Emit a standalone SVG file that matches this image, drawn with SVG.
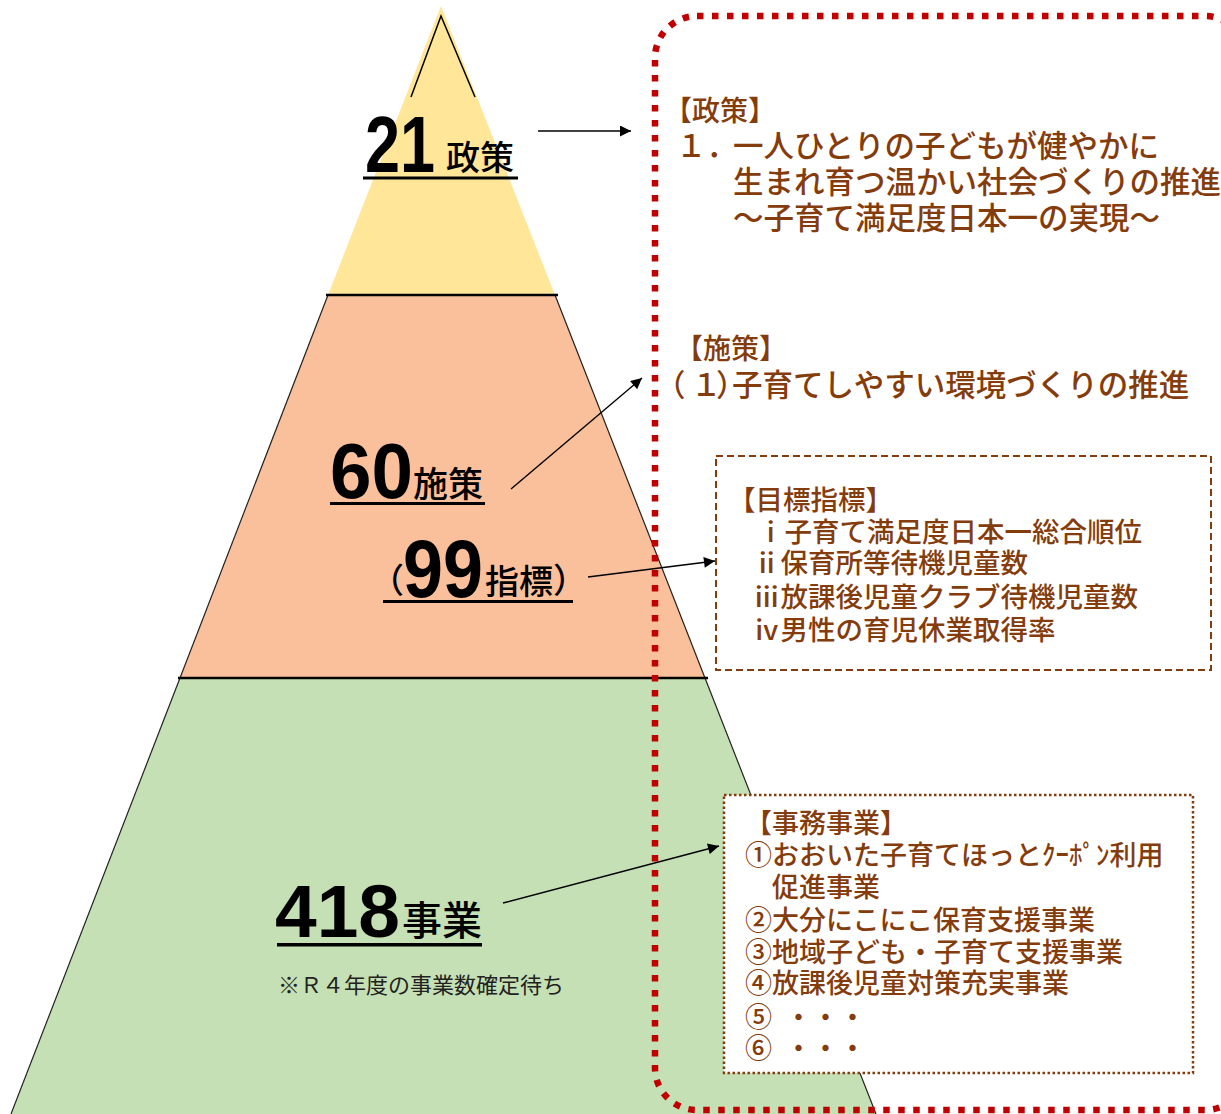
<svg xmlns="http://www.w3.org/2000/svg" width="1221" height="1114" viewBox="0 0 1221 1114">
<style>
.jp{font-family:"Noto Sans CJK JP","Noto Sans CJK SC",sans-serif}
.br{fill:#843C0C;font-weight:500}
.num{font-family:"Liberation Sans","Noto Sans CJK JP",sans-serif;font-weight:700;fill:#000}
.lbl{font-family:"Noto Sans CJK JP",sans-serif;font-weight:500;fill:#000}
.note{font-family:"Noto Sans CJK JP",sans-serif;font-weight:400;fill:#222}
.conn{stroke:#000;stroke-width:1.4;fill:none;marker-end:url(#ah)}
.edge{stroke:#222;stroke-width:1.2}
</style>
<defs>
<marker id="ah" viewBox="0 0 10 10" refX="10" refY="5" markerWidth="15" markerHeight="11" orient="auto" markerUnits="userSpaceOnUse">
<path d="M0,0 L10,5 L0,10 z" fill="#000"/>
</marker>
</defs>
<rect width="1221" height="1114" fill="#fff"/>

<g id="tier-policy">
<polygon points="441,6 555,295 328,295" fill="#FFE699"/>
<polyline points="411,97 441,16 475,97" fill="none" stroke="#000" stroke-width="1.5"/>
</g>
<g id="tier-measures">
<polygon points="328,295 555,295 705,678 180,678" fill="#FAC09B"/>
<line class="edge" x1="328" y1="295" x2="180" y2="678"/>
<line class="edge" x1="555" y1="295" x2="705" y2="678"/>
<line x1="326" y1="295" x2="558" y2="295" stroke="#000" stroke-width="2.5"/>
</g>
<g id="tier-projects">
<polygon points="180,678 705,678 876,1114 11,1114" fill="#C5E0B4"/>
<line class="edge" x1="180" y1="678" x2="11" y2="1114"/>
<line class="edge" x1="705" y1="678" x2="876" y2="1114"/>
<line x1="178" y1="678" x2="708" y2="678" stroke="#000" stroke-width="2.5"/>
</g>

<g id="label-21">
<text class="num" x="365" y="172" font-size="80" textLength="70" lengthAdjust="spacingAndGlyphs">21</text>
<text class="lbl" x="446" y="170" font-size="34">政策</text>
<rect x="363" y="176.5" width="155" height="3" fill="#000"/>
</g>
<g id="label-60">
<text class="num" x="330" y="498" font-size="77" textLength="83" lengthAdjust="spacingAndGlyphs">60</text>
<text class="lbl" x="413" y="497" font-size="35">施策</text>
<rect x="330" y="502" width="155" height="3" fill="#000"/>
</g>
<g id="label-99">
<text class="lbl" font-size="34"><tspan x="370" y="593">（</tspan><tspan x="485" y="594">指標</tspan><tspan x="553" y="593">）</tspan></text>
<text class="num" x="403" y="597" font-size="81" textLength="80" lengthAdjust="spacingAndGlyphs">99</text>
<rect x="383" y="600" width="190" height="3" fill="#000"/>
</g>
<g id="label-418">
<text class="num" x="275" y="937" font-size="75" textLength="125" lengthAdjust="spacingAndGlyphs">418</text>
<text class="lbl" x="402" y="935" font-size="40">事業</text>
<rect x="277" y="943" width="205" height="3.5" fill="#000"/>
<text class="note" x="278" y="993" font-size="22">※Ｒ４年度の事業数確定待ち</text>
</g>

<g id="policy-text" class="jp br">
<text x="664" y="121" font-size="28">【政策】</text>
<text font-size="30.5"><tspan x="676" y="157">１．</tspan><tspan x="733" y="157">一人ひとりの子どもが健やかに</tspan></text>
<text x="733" y="193" font-size="30.5">生まれ育つ温かい社会づくりの推進</text>
<text x="733" y="229" font-size="30.5">～子育て満足度日本一の実現～</text>
</g>
<g id="measure-text" class="jp br">
<text x="675" y="359" font-size="28">【施策】</text>
<text font-size="30.5" y="396"><tspan x="655">（</tspan><tspan x="691">１</tspan><tspan x="716">）</tspan><tspan x="732">子育てしやすい環境づくりの推進</tspan></text>
</g>
<g id="indicator-box">
<rect x="716" y="456" width="495" height="214" fill="#fff" stroke="#843C0C" stroke-width="2" stroke-dasharray="7 4"/>
<g class="jp br" font-size="27.5">
<text x="728" y="510">【目標指標】</text>
<text x="757" y="542">ⅰ子育て満足度日本一総合順位</text>
<text x="753" y="573">ⅱ保育所等待機児童数</text>
<text x="753" y="607">ⅲ放課後児童クラブ待機児童数</text>
<text x="753" y="640">ⅳ男性の育児休業取得率</text>
</g>
</g>
<g id="project-box">
<rect x="724" y="795" width="469" height="278" fill="#fff" stroke="#843C0C" stroke-width="2.5" stroke-dasharray="2.5 2.5"/>
<g class="jp br" font-size="27">
<text x="745" y="833">【事務事業】</text>
<text x="745" y="865">①おおいた子育てほっとｸｰﾎﾟﾝ利用</text>
<text x="772" y="897">促進事業</text>
<text x="745" y="930">②大分にこにこ保育支援事業</text>
<text x="745" y="962">③地域子ども・子育て支援事業</text>
<text x="745" y="993">④放課後児童対策充実事業</text>
<text x="745" y="1027">⑤<tspan x="785">・・・</tspan></text>
<text x="745" y="1058">⑥<tspan x="785">・・・</tspan></text>
</g>
</g>

<g id="connectors">
<line class="conn" x1="538" y1="131" x2="631" y2="131"/>
<line class="conn" x1="511" y1="489" x2="642" y2="378"/>
<line class="conn" x1="588" y1="577" x2="715" y2="561"/>
<line class="conn" x1="503" y1="903" x2="719" y2="846"/>
</g>

<g id="frame">
<rect x="655" y="16" width="592" height="1094" rx="42" ry="42" fill="none" stroke="#C00000" stroke-width="6.5" stroke-dasharray="6.5 8.5"/>
</g>
</svg>
